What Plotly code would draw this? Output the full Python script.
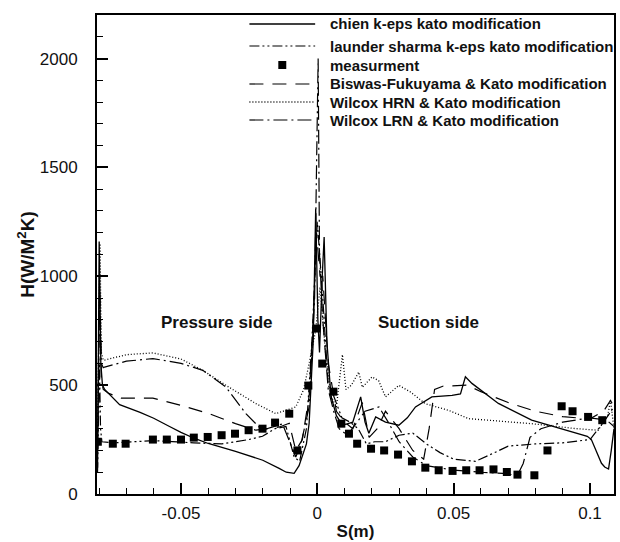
import plotly.graph_objects as go

# ---------------- data ----------------
chien_s = [-0.0806, -0.0800, -0.0794, -0.0788, -0.0780, -0.0725, -0.0650, -0.0600, -0.0542, -0.0500, -0.0450,
           -0.0400, -0.0300, -0.0200, -0.0140, -0.0114, -0.0085, -0.0067, -0.0040, -0.0030, -0.0015, -0.0006,
           0.0002, 0.0008, 0.0018, 0.0025, 0.0035, 0.0050, 0.0070, 0.0085, 0.0104, 0.0130, 0.0159, 0.0175,
           0.0189, 0.0214, 0.0250, 0.0299, 0.0330, 0.0360, 0.0420, 0.0494, 0.0525, 0.0543, 0.0567, 0.0664,
           0.0786, 0.0908, 0.0990, 0.1005, 0.1042, 0.1054, 0.1068, 0.1078, 0.1088]
chien_h = [120, 1160, 600, 500, 480, 410, 375, 348, 310, 283, 255,
           232, 196, 155, 118, 100, 95, 130, 230, 325, 700, 1310,
           800, 650, 1000, 1180, 700, 450, 360, 330, 320, 330, 446, 330,
           279, 354, 330, 316, 350, 400, 446, 453, 460, 538, 508, 416,
           339, 293, 265, 250, 141, 124, 115, 200, 300]

launder_s = [-0.0806, -0.0799, -0.0795, -0.0790, -0.0750, -0.0600, -0.0453, -0.0350, -0.0252, -0.0201, -0.0155,
             -0.0115, -0.0085, -0.0065, -0.0040, -0.0020, 0.0000, 0.0020, 0.0040, 0.0060, 0.0090, 0.0120, 0.0150,
             0.0180, 0.0210, 0.0250, 0.0300, 0.0350, 0.0400, 0.0450, 0.0500, 0.0580, 0.0650, 0.0700, 0.0800,
             0.0900, 0.1000, 0.1050, 0.1088]
launder_h = [100, 600, 300, 240, 235, 245, 235, 230, 250, 265, 300,
             310, 170, 150, 300, 700, 1250, 900, 500, 450, 350, 330, 300,
             230, 240, 240, 270, 280, 230, 190, 160, 150, 190, 220, 230,
             235, 250, 330, 400]

meas_s = [-0.0805, -0.0750, -0.0703, -0.0603, -0.0552, -0.0500, -0.0453, -0.0402, -0.0351, -0.0302, -0.0252,
          -0.0201, -0.0155, -0.0103, -0.0073, -0.0033, -0.0004, 0.0018, 0.0059, 0.0088, 0.0116, 0.0146,
          0.0197, 0.0245, 0.0296, 0.0347, 0.0396, 0.0445, 0.0496, 0.0546, 0.0595, 0.0646, 0.0695, 0.0734,
          0.0796, 0.0844, 0.0896, 0.0936, 0.0993, 0.1045]
meas_h = [240, 231, 231, 250, 250, 250, 259, 262, 270, 277, 293,
          300, 328, 369, 200, 498, 760, 599, 470, 323, 277, 231,
          208, 200, 181, 150, 121, 109, 106, 109, 109, 113, 101, 89,
          86, 200, 403, 380, 354, 339]

biswas_s = [-0.0806, -0.0798, -0.0792, -0.0785, -0.0765, -0.0720, -0.0603, -0.0500, -0.0396, -0.0300, -0.0225,
            -0.0139, -0.0103, -0.0079, -0.0055, -0.0030, -0.0015, -0.0003, 0.0010, 0.0020, 0.0040, 0.0070,
            0.0100, 0.0130, 0.0165, 0.0190, 0.0220, 0.0250, 0.0300, 0.0350, 0.0390, 0.0410, 0.0430, 0.0460,
            0.0550, 0.0600, 0.0700, 0.0800, 0.0900, 0.1000, 0.1050, 0.1075, 0.1088]
biswas_h = [250, 900, 520, 480, 462, 440, 440, 407, 369, 323, 293,
            308, 325, 200, 250, 450, 800, 1200, 1000, 1000, 600, 380,
            330, 300, 420, 260, 300, 380, 300, 200, 160, 300, 480, 495,
            500, 470, 420, 380, 355, 345, 380, 430, 400]

hrn_s = [-0.0806, -0.0797, -0.0792, -0.0785, -0.0780, -0.0700, -0.0603, -0.0500, -0.0420, -0.0335, -0.0225,
         -0.0152, -0.0079, -0.0050, -0.0030, -0.0006, 0.0010, 0.0030, 0.0050, 0.0070, 0.0092, 0.0105,
         0.0125, 0.0152, 0.0165, 0.0201, 0.0225, 0.0250, 0.0299, 0.0340, 0.0396, 0.0482, 0.0555, 0.0786,
         0.0950, 0.1030, 0.1065, 0.1075, 0.1088]
hrn_h = [300, 1150, 650, 615, 615, 640, 648, 620, 568, 499, 415,
         369, 400, 480, 600, 752, 950, 650, 450, 400, 640, 480,
         500, 560, 490, 538, 520, 446, 499, 470, 415, 384, 346, 323,
         300, 293, 360, 430, 300]

lrn_s = [-0.0806, -0.0798, -0.0792, -0.0785, -0.0780, -0.0700, -0.0603, -0.0500, -0.0420, -0.0335, -0.0262,
         -0.0202, -0.0128, -0.0079, -0.0060, -0.0030, -0.0010, 0.0003, 0.0008, 0.0020, 0.0040, 0.0060,
         0.0080, 0.0110, 0.0140, 0.0175, 0.0226, 0.0260, 0.0300, 0.0350, 0.0400, 0.0500, 0.0600, 0.0680,
         0.0734, 0.0755, 0.0780, 0.0820, 0.0900, 0.1000, 0.1060, 0.1088]
lrn_h = [200, 950, 600, 580, 583, 610, 622, 600, 568, 491, 369,
         293, 322, 170, 230, 400, 900, 2000, 1100, 800, 480, 380,
         300, 270, 320, 380, 400, 330, 240, 170, 130, 110, 100, 95,
         86, 140, 260, 300, 330, 350, 340, 310]

x_tickvals = [-0.05, 0, 0.05, 0.1]
x_ticktext = ["-0.05", "0", "0.05", "0.1"]

legend_names = ["chien k-eps kato modification",
                "launder sharma k-eps kato modification",
                "measurment",
                "Biswas-Fukuyama & Kato modification",
                "Wilcox HRN & Kato modification",
                "Wilcox LRN & Kato modification"]

# ---------------- styles ----------------
FONT = "Liberation Sans, Arial, Helvetica, sans-serif"
styles = [
    dict(dash="solid", width=1.3),
    dict(dash="10px,3px,2px,3px,2px,3px", width=1.2),
    None,
    dict(dash="14px,9px", width=1.2),
    dict(dash="1px,2px", width=1.3),
    dict(dash="14px,4px,2px,4px", width=1.2),
]

series = [(chien_s, chien_h), (launder_s, launder_h), (meas_s, meas_h),
          (biswas_s, biswas_h), (hrn_s, hrn_h), (lrn_s, lrn_h)]

fig = go.Figure()
for (s, h), name, st in zip(series, legend_names, styles):
    if st is None:
        fig.add_trace(go.Scatter(x=s, y=h, mode="markers", name=name, showlegend=False,
                                 marker=dict(symbol="square", size=8, color="black")))
    else:
        fig.add_trace(go.Scatter(x=s, y=h, mode="lines", name=name, showlegend=False,
                                 line=dict(color="black", width=st["width"], dash=st["dash"])))

# ---------------- custom legend (paper coords) ----------------
L, R, T, B = 97, 616, 15, 494
W, H = R - L, B - T
def px(x):
    return (x - L) / W
def py(y):
    return (B - y) / H

legend_rows = [24, 46, 65, 84, 102, 120]
sample_x0, sample_x1, text_x = 250, 316, 329
shapes = []
annotations = []
for name, st, yrow in zip(legend_names, styles, legend_rows):
    if st is None:
        cx = 283
        shapes.append(dict(type="rect", xref="paper", yref="paper",
                           x0=px(cx - 4), x1=px(cx + 4), y0=py(yrow + 4), y1=py(yrow - 4),
                           fillcolor="black", line=dict(width=0)))
    else:
        shapes.append(dict(type="line", xref="paper", yref="paper",
                           x0=px(sample_x0), x1=px(sample_x1), y0=py(yrow), y1=py(yrow),
                           line=dict(color="black", width=st["width"], dash=st["dash"])))
    annotations.append(dict(xref="paper", yref="paper", x=px(text_x), y=py(yrow),
                            xanchor="left", yanchor="middle", showarrow=False, text=name,
                            font=dict(family=FONT, size=15, color="#111", weight="bold")))

annotations.append(dict(x=-0.0367, y=789, xref="x", yref="y", text="Pressure side", showarrow=False,
                        font=dict(family=FONT, size=17, color="#111", weight="bold")))
annotations.append(dict(x=0.0408, y=789, xref="x", yref="y", text="Suction side", showarrow=False,
                        font=dict(family=FONT, size=17, color="#111", weight="bold")))

fig.update_layout(
    width=620, height=542,
    margin=dict(l=L, r=620 - R, t=T, b=542 - B),
    paper_bgcolor="white", plot_bgcolor="white",
    showlegend=False,
    shapes=shapes, annotations=annotations,
    font=dict(family=FONT, color="#111"),
)
fig.update_xaxes(
    range=[-0.0808, 0.1088], tickmode="array", tickvals=x_tickvals, ticktext=x_ticktext,
    ticks="inside", ticklen=11, tickwidth=1.8, tickcolor="black",
    minor=dict(dtick=0.01, tick0=0, ticks="inside", ticklen=6, tickwidth=1.2, tickcolor="black"),
    showline=True, linewidth=2, linecolor="black", mirror=True,
    showgrid=False, zeroline=False,
    tickfont=dict(family=FONT, size=17, color="#111"), ticklabelstandoff=3,
    title=dict(text="S(m)", font=dict(family=FONT, size=17, color="#111", weight="bold"), standoff=3),
)
fig.update_yaxes(
    range=[0, 2200], dtick=500, tick0=0,
    ticks="inside", ticklen=11, tickwidth=1.8, tickcolor="black",
    minor=dict(dtick=100, tick0=0, ticks="inside", ticklen=6, tickwidth=1.2, tickcolor="black"),
    showline=True, linewidth=2, linecolor="black", mirror=True,
    showgrid=False, zeroline=False,
    tickfont=dict(family=FONT, size=17, color="#111"), ticklabelstandoff=14,
    title=dict(text="H(W/M<sup>2</sup>K)", font=dict(family=FONT, size=19, color="#111", weight="bold"), standoff=0),
)

fig.write_html("out.html")
